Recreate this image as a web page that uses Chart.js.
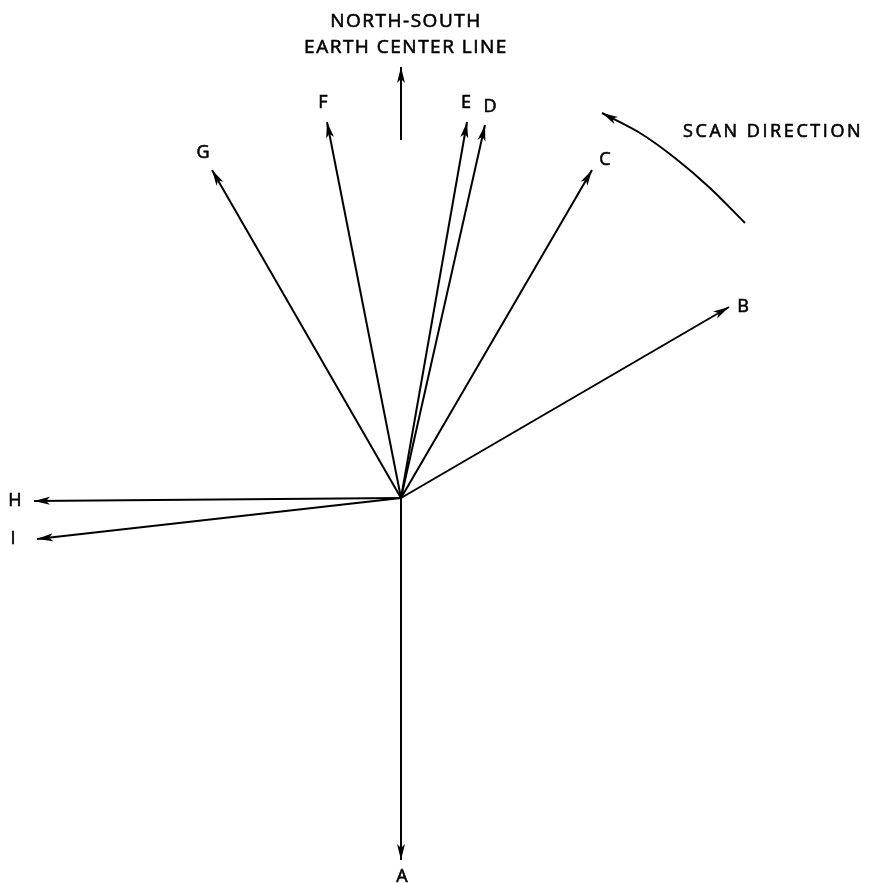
<!DOCTYPE html>
<html>
<head>
<meta charset="utf-8">
<script src="https://cdn.jsdelivr.net/npm/chart.js@4.4.0/dist/chart.umd.min.js"></script>
<style>
body { margin: 0; background: #fff; }
#grafica { display: block; }
</style>
</head>
<body>
<canvas id="grafica" width="871" height="883"></canvas>
<script>
// diagram coordinates: x to the right, y downward (same units as the sheet)
const originX = 401;
const originY = 498;

const vectorNames = ['A', 'B', 'C', 'D', 'E', 'F', 'G', 'H', 'I'];
const tipX = [401, 729, 592, 485, 467, 327, 212, 34, 37];
const tipY = [860, 307, 170, 125, 122, 122, 170, 501, 539];
const labelX = [402, 743, 605, 490, 466, 323, 203, 15, 13];
const labelY = [877, 307, 160, 107, 103, 103, 153, 501, 539];

// north-south earth center line arrow
const northX = [401, 401];
const northY = [140, 67];
const northTitle = ['NORTH-SOUTH', 'EARTH CENTER LINE'];
const northTitleY = [22, 48];

// scan direction arc (from tail to tip)
const scanX = [745, 710, 675, 640, 602];
const scanY = [223, 188, 158, 133, 113];
const scanLabel = 'SCAN DIRECTION';
const scanLabelXY = [683, 132];

let datasetValue = [];
for (let i = 0; i < vectorNames.length; i++) {
    datasetValue.push({
        label: vectorNames[i],
        data: [{ x: originX, y: originY }, { x: tipX[i], y: tipY[i] }],
        arrow: true
    });
}
datasetValue.push({
    label: 'N-S',
    data: northX.map((x, i) => ({ x: x, y: northY[i] })),
    arrow: true
});
datasetValue.push({
    label: 'scan',
    data: scanX.map((x, i) => ({ x: x, y: scanY[i] })),
    tension: 0.3,
    arrow: true
});

const arrowHeads = {
    id: 'arrowHeads',
    afterDatasetsDraw(chart) {
        const ctx = chart.ctx;
        chart.data.datasets.forEach((ds, i) => {
            if (!ds.arrow) return;
            const pts = chart.getDatasetMeta(i).data;
            const p1 = pts[pts.length - 1];
            const p0 = pts[pts.length - 2];
            const ang = Math.atan2(p1.y - p0.y, p1.x - p0.x);
            const len = 16, half = 4;
            ctx.save();
            ctx.translate(p1.x, p1.y);
            ctx.rotate(ang);
            ctx.beginPath();
            ctx.moveTo(0, 0);
            ctx.lineTo(-len, -half);
            ctx.lineTo(-len + 4, 0);
            ctx.lineTo(-len, half);
            ctx.closePath();
            ctx.fillStyle = '#000';
            ctx.fill();
            ctx.restore();
        });
    }
};

function boldText(ctx, t, x, y) {
    ctx.strokeText(t, x, y);
    ctx.fillText(t, x, y);
}

const textLabels = {
    id: 'textLabels',
    afterDraw(chart) {
        const ctx = chart.ctx;
        const sx = chart.scales.x, sy = chart.scales.y;
        ctx.save();
        ctx.fillStyle = '#000';
        ctx.strokeStyle = '#000';
        ctx.lineWidth = 0.6;
        ctx.textAlign = 'center';
        ctx.textBaseline = 'middle';
        ctx.font = '18px "Open Sans", sans-serif';
        for (let i = 0; i < vectorNames.length; i++) {
            boldText(ctx, vectorNames[i], sx.getPixelForValue(labelX[i]), sy.getPixelForValue(labelY[i]));
        }
        ctx.font = '19px "Open Sans", sans-serif';
        ctx.letterSpacing = '1.5px';
        northTitle.forEach((t, i) => {
            boldText(ctx, t, sx.getPixelForValue(406), sy.getPixelForValue(northTitleY[i]));
        });
        ctx.font = '18px "Open Sans", sans-serif';
        ctx.letterSpacing = '2.6px';
        ctx.textAlign = 'left';
        boldText(ctx, scanLabel, sx.getPixelForValue(scanLabelXY[0]), sy.getPixelForValue(scanLabelXY[1]));
        ctx.restore();
    }
};

const config = {
    type: 'line',
    data: { datasets: datasetValue },
    options: {
        responsive: false,
        animation: false,
        elements: {
            line: { borderColor: '#000', borderWidth: 2, fill: false },
            point: { radius: 0, hoverRadius: 0 }
        },
        layout: { padding: 0 },
        scales: {
            x: { type: 'linear', min: 0, max: 871, display: false },
            y: { type: 'linear', min: 0, max: 883, reverse: true, display: false }
        },
        plugins: {
            legend: { display: false },
            tooltip: { enabled: false }
        }
    },
    plugins: [arrowHeads, textLabels]
};

new Chart(document.getElementById('grafica'), config);
</script>
</body>
</html>
